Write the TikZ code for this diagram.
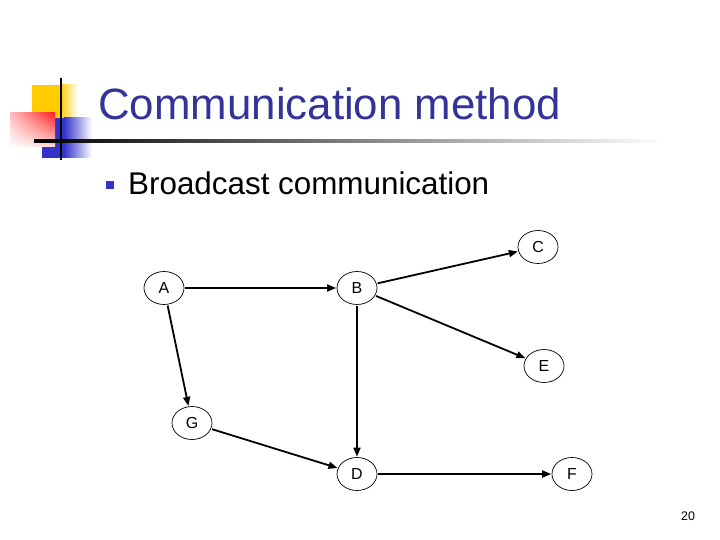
\documentclass[tikz,border=0pt]{standalone}
\usepackage{fontspec}
\setmainfont{Liberation Sans}
\usetikzlibrary{arrows.meta,shapes.geometric,shadings}
\definecolor{titleblue}{HTML}{333399}
\definecolor{bulletblue}{HTML}{3333CC}
\definecolor{decoyellow}{HTML}{FFCC00}
\definecolor{decored}{HTML}{FF2020}
\tikzset{
  every picture/.style={line join=round, >={Triangle[length=9bp,width=7bp]}},
  vertex/.style={ellipse, draw, line width=0.7bp, inner sep=0pt, minimum width=40bp, minimum height=33bp, font=\fontsize{16}{16}\selectfont},
  link/.style={->, line width=1.8bp, shorten <=1bp, shorten >=0.5bp},
}

\begin{document}
\begin{tikzpicture}[x=1bp,y=-1bp]
\useasboundingbox (0,0) rectangle (720,540);
% corner decoration
\fill[decoyellow] (32,85) rectangle (60,118);
\shade[left color=decoyellow, right color=white] (60,85) rectangle (78,118);
\fill[bulletblue] (42,118) rectangle (64,158);
\shade[left color=bulletblue, right color=white] (64,118) rectangle (92,158);
\shade[upper right=decored, upper left=red!25, lower left=white, lower right=red!15] (10,113) rectangle (55,147);
\shade[left color=black, middle color=gray!55, right color=white] (34,139.5) rectangle (665,142.5);
\draw[line width=2.5bp] (61,78) -- (61,160);
% headings
\node[anchor=base west, inner sep=0pt, text=titleblue, font=\fontsize{44}{44}\selectfont] (title) at (98,120) {Communication method};
\fill[bulletblue] (106,181) rectangle (114,189);
\node[anchor=base west, inner sep=0pt, font=\fontsize{31.5}{31.5}\selectfont] (item) at (128,195) {Broadcast communication};
% graph
\node[vertex] (A) at (164,288) {A};
\node[vertex] (B) at (357,288) {B};
\node[vertex] (C) at (538,247) {C};
\node[vertex] (E) at (544,366) {E};
\node[vertex] (G) at (192,423) {G};
\node[vertex] (D) at (357,474) {D};
\node[vertex] (F) at (572,474) {F};
\draw[link] (A) -- (B);
\draw[link] (B) -- (C);
\draw[link] (B) -- (E);
\draw[link] (B) -- (D);
\draw[link] (A) -- (G);
\draw[link] (G) -- (D);
\draw[link] (D) -- (F);
% slide number
\node[font=\fontsize{12.5}{12.5}\selectfont] (page) at (688,516) {20};
\end{tikzpicture}
\end{document}
